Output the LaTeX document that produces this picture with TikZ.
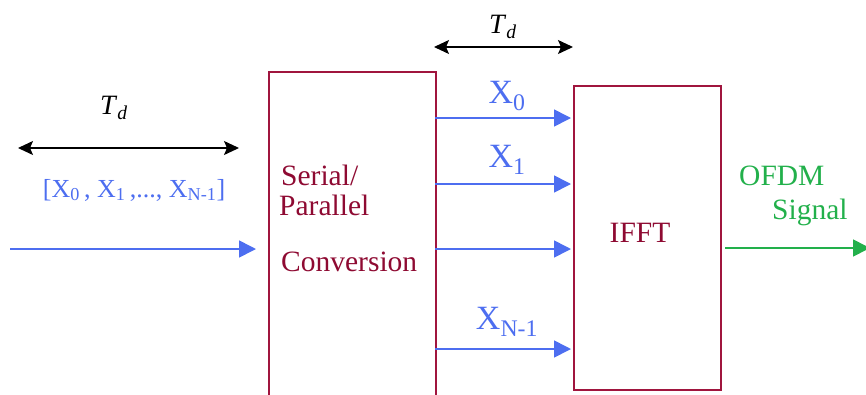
\documentclass[tikz,border=0pt]{standalone}
\usepackage{fontspec}
\setmainfont{Liberation Serif}
\usetikzlibrary{arrows.meta}
\definecolor{boxred}{HTML}{A0153E}
\definecolor{txtred}{HTML}{8E0A32}
\definecolor{sigblue}{HTML}{4D6EF0}
\definecolor{siggreen}{HTML}{22B04B}
\begin{document}
\begin{tikzpicture}[x=1pt,y=-1pt,
  blk/.style={draw=boxred,line width=1.8pt,inner sep=0pt},
  sig/.style={sigblue,line width=1.6pt,-{Triangle[length=17pt,width=17pt]}},
  outsig/.style={siggreen,line width=1.6pt,-{Triangle[length=17pt,width=17pt]}},
  span/.style={black,line width=1.4pt,{Stealth[length=15pt,width=14pt,inset=3pt]}-{Stealth[length=15pt,width=14pt,inset=3pt]}},
  lbl/.style={inner sep=0pt,font=\fontsize{29.5}{33}\selectfont},
  xlbl/.style={inner sep=0pt,text=sigblue,font=\fontsize{34}{38}\selectfont},
  tlbl/.style={inner sep=0pt,font=\fontsize{28}{32}\selectfont}]
\useasboundingbox (0,0) rectangle (866,394);
\begin{scope}
\clip (0,0) rectangle (866,394);
% boxes
\node[blk,minimum width=167pt,minimum height=340pt,anchor=north west] (sp) at (268,71) {};
\node[blk,minimum width=147pt,minimum height=304pt,anchor=north west] (ifft) at (573,85) {};
% texts in boxes
\node[lbl,text=txtred,anchor=west] (t1) at (281,175) {Serial/};
\node[lbl,text=txtred,anchor=west] (t2) at (279,205) {Parallel};
\node[lbl,text=txtred,anchor=west] (t3) at (281,262) {Conversion};
\node[lbl,text=txtred] (t4) at (640,233) {IFFT};
% input
\coordinate (in) at (10,249);
\coordinate (spin) at (256,249);
\draw[sig] (in) -- (spin);
% parallel arrows
\coordinate (a0) at (435,118); \coordinate (b0) at (571,118);
\coordinate (a1) at (435,184); \coordinate (b1) at (571,184);
\coordinate (a2) at (435,249); \coordinate (b2) at (571,249);
\coordinate (a3) at (435,349); \coordinate (b3) at (571,349);
\draw[sig] (a0) -- (b0);
\draw[sig] (a1) -- (b1);
\draw[sig] (a2) -- (b2);
\draw[sig] (a3) -- (b3);
\node[xlbl] (x0) at (507,96) {X\textsubscript{0}};
\node[xlbl] (x1) at (507,160) {X\textsubscript{1}};
\node[xlbl] (xn) at (507,322) {X\textsubscript{N-1}};
% output
\coordinate (o1) at (725,248);
\coordinate (o2) at (870,248);
\draw[outsig] (o1) -- (o2);
\node[lbl,text=siggreen,anchor=west] (of) at (739,176) {OFDM};
\node[lbl,text=siggreen,anchor=west] (sg) at (772,212) {Signal};
% timing
\coordinate (l1) at (18,148); \coordinate (l2) at (239,148);
\draw[span] (l1) -- (l2);
\node[tlbl] (td1) at (114,108) {\textit{T}\textsubscript{\textit{d}}};
\coordinate (r1) at (434,47); \coordinate (r2) at (573,47);
\draw[span] (r1) -- (r2);
\node[tlbl] (td2) at (503,27) {\textit{T}\textsubscript{\textit{d}}};
\node[inner sep=0pt,text=sigblue,font=\fontsize{26}{30}\selectfont] (lst) at (134,190) {[X\textsubscript{0}\,, X\textsubscript{1}\,,..., X\textsubscript{N-1}]};
\end{scope}
\end{tikzpicture}
\end{document}
